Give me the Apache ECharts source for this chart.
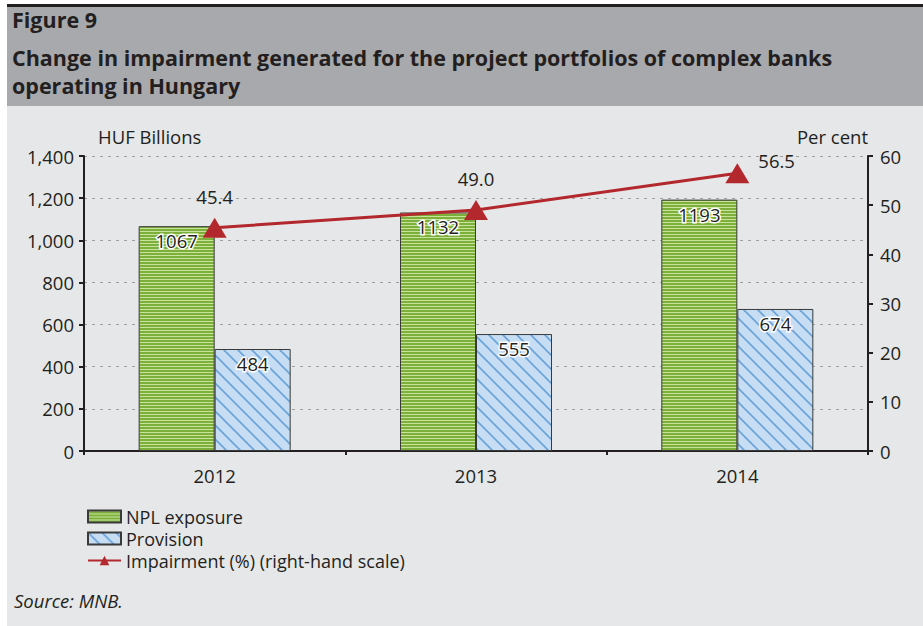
<!DOCTYPE html>
<html>
<head>
<meta charset="utf-8">
<script src="https://cdn.jsdelivr.net/npm/echarts@6/dist/echarts.min.js"></script>
<style>
html, body { margin: 0; padding: 0; background: #fff; }
#chart { width: 923px; height: 626px; }
</style>
</head>
<body>
<div id="chart"></div>
<script>
// data
var years = ['2012', '2013', '2014'];
var nplExposure = [1067, 1132, 1193];
var provision = [484, 555, 674];
var impairment = [45.4, 49.0, 56.5];
var leftTicks = [0, 200, 400, 600, 800, 1000, 1200, 1400];
var rightTicks = [0, 10, 20, 30, 40, 50, 60];

var FONT = '"Open Sans", Lato, sans-serif';
var TEXT = '#231f20';
var FS = 18.5;

// horizontal green stripes
function stripePattern() {
    var c = document.createElement('canvas');
    c.width = 6; c.height = 3;
    var g = c.getContext('2d');
    g.fillStyle = '#c9e39c';
    g.fillRect(0, 0, 6, 3);
    g.fillStyle = '#7daf3b';
    g.fillRect(0, 1, 6, 2);
    return c;
}

// light blue with diagonal lines
function hatchPattern() {
    var s = 14;
    var c = document.createElement('canvas');
    c.width = s; c.height = s;
    var g = c.getContext('2d');
    g.fillStyle = '#c6ddf3';
    g.fillRect(0, 0, s, s);
    g.strokeStyle = '#6aa3d8';
    g.lineWidth = 1.6;
    g.beginPath();
    g.moveTo(-2, -2); g.lineTo(s + 2, s + 2);
    g.moveTo(-2, s - 2); g.lineTo(2, s + 2);
    g.moveTo(s - 2, -2); g.lineTo(s + 2, 2);
    g.stroke();
    return c;
}

var myChart = echarts.init(document.getElementById('chart'), null, { renderer: 'svg' });

var lineData = impairment.map(function (v, i) {
    if (i === impairment.length - 1) {
        return { value: v, label: { position: 'right', offset: [-3, -13] } };
    }
    return v;
});

var option = {
    backgroundColor: '#ffffff',
    textStyle: { fontFamily: FONT, color: TEXT },
    graphic: [
        { type: 'rect', z: -10, shape: { x: 7, y: 7, width: 916, height: 619 }, style: { fill: '#e6e7e8' } },
        { type: 'rect', z: -9, shape: { x: 7, y: 7, width: 916, height: 99 }, style: { fill: '#a7a9ac' } },
        { type: 'rect', z: -8, shape: { x: 7, y: 4, width: 916, height: 3 }, style: { fill: '#231f20' } },
        { type: 'text', left: 12, top: 8, style: { text: 'Figure 9', font: 'bold 21.5px ' + FONT, fill: TEXT } },
        { type: 'text', left: 12, top: 43, style: {
            text: 'Change in impairment generated for the project portfolios of complex banks\noperating in Hungary',
            font: 'bold 21.5px ' + FONT, fill: TEXT, lineHeight: 28 } },
        { type: 'text', left: 14, top: 591, style: { text: 'Source: MNB.', font: 'italic ' + FS + 'px ' + FONT, fill: TEXT } }
    ],
    grid: { left: 84, right: 55, top: 156, bottom: 175 },
    legend: {
        orient: 'vertical',
        left: 82,
        top: 502,
        itemWidth: 33,
        itemHeight: 12,
        itemGap: 3,
        textStyle: { fontSize: 18, color: TEXT, fontFamily: FONT, lineHeight: 19 },
        data: [
            { name: 'NPL exposure', icon: 'rect' },
            { name: 'Provision', icon: 'rect' },
            'Impairment (%) (right-hand scale)'
        ]
    },
    xAxis: {
        type: 'category',
        data: years,
        axisLine: { lineStyle: { color: '#231f20', width: 2 } },
        axisTick: { show: true, length: 4, lineStyle: { color: '#231f20', width: 2 } },
        axisLabel: { fontSize: FS, color: TEXT, margin: 15 }
    },
    yAxis: [
        {
            type: 'value',
            min: leftTicks[0],
            max: leftTicks[leftTicks.length - 1],
            interval: leftTicks[1] - leftTicks[0],
            name: 'HUF Billions',
            nameLocation: 'end',
            nameGap: 10,
            nameTextStyle: { fontSize: FS, color: TEXT, align: 'left', padding: [0, 0, 0, 14] },
            axisLine: { show: true, lineStyle: { color: '#231f20', width: 2 } },
            axisTick: { show: true, length: 5, lineStyle: { color: '#231f20', width: 2 } },
            axisLabel: {
                fontSize: FS, color: TEXT, margin: 10,
                formatter: function (v) { return v.toLocaleString('en-US'); }
            },
            splitLine: { show: true, lineStyle: { color: '#a0a0a0', type: [3, 5], width: 1 } }
        },
        {
            type: 'value',
            min: rightTicks[0],
            max: rightTicks[rightTicks.length - 1],
            interval: rightTicks[1] - rightTicks[0],
            name: 'Per cent',
            nameLocation: 'end',
            nameGap: 10,
            nameTextStyle: { fontSize: FS, color: TEXT, align: 'right' },
            axisLine: { show: true, lineStyle: { color: '#231f20', width: 2 } },
            axisTick: { show: true, length: 5, lineStyle: { color: '#231f20', width: 2 } },
            axisLabel: { fontSize: FS, color: TEXT, margin: 12 },
            splitLine: { show: false }
        }
    ],
    series: [
        {
            name: 'NPL exposure',
            type: 'bar',
            data: nplExposure,
            barWidth: 76,
            barGap: '0%',
            itemStyle: {
                color: { image: stripePattern(), repeat: 'repeat' },
                borderColor: '#3a3a3a',
                borderWidth: 1
            },
            label: {
                show: true, position: 'insideTop', distance: 5,
                fontSize: FS, color: TEXT, textBorderColor: '#fff', textBorderWidth: 3
            }
        },
        {
            name: 'Provision',
            type: 'bar',
            data: provision,
            barWidth: 76,
            itemStyle: {
                color: { image: hatchPattern(), repeat: 'repeat' },
                borderColor: '#3a3a3a',
                borderWidth: 1
            },
            label: {
                show: true, position: 'insideTop', distance: 5,
                fontSize: FS, color: TEXT, textBorderColor: '#fff', textBorderWidth: 3
            }
        },
        {
            name: 'Impairment (%) (right-hand scale)',
            type: 'line',
            yAxisIndex: 1,
            data: lineData,
            symbol: 'triangle',
            symbolSize: [24, 20],
            lineStyle: { color: '#b3282d', width: 3 },
            itemStyle: { color: '#b3282d' },
            label: {
                show: true, position: 'top', distance: 12,
                fontSize: FS, color: TEXT,
                formatter: function (p) { return p.value.toFixed(1); }
            },
            z: 5
        }
    ]
};
myChart.setOption(option);
</script>
</body>
</html>
